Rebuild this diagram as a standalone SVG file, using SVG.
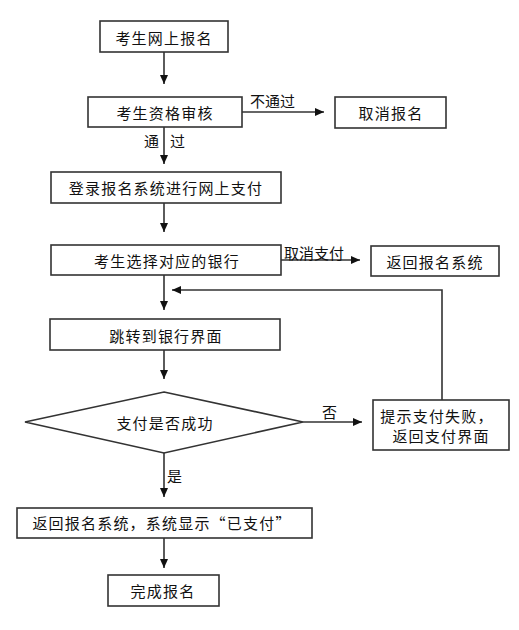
<svg xmlns="http://www.w3.org/2000/svg" width="519" height="630" viewBox="0 0 519 630">
<style>
.box{fill:#fff;stroke:#333;stroke-width:1.6}
.t{font-family:"Noto Sans CJK SC","Liberation Sans",sans-serif;font-size:15px;fill:#111;text-anchor:middle;dominant-baseline:central;letter-spacing:1.2px}
.l{font-family:"Noto Sans CJK SC","Liberation Sans",sans-serif;font-size:15px;fill:#111;dominant-baseline:central}
.c{fill:none;stroke:#333;stroke-width:1.6}
</style>
<defs>
<marker id="ah" markerWidth="10" markerHeight="10" refX="9" refY="4" orient="auto" markerUnits="userSpaceOnUse">
<path d="M0,0 L9,4 L0,8 Z" fill="#111"/>
</marker>
</defs>
<rect width="519" height="630" fill="#fff"/>
<g id="connectors">
<line class="c" x1="164" y1="52" x2="164" y2="84" marker-end="url(#ah)"/>
<line class="c" x1="242" y1="112" x2="324" y2="112" marker-end="url(#ah)"/>
<line class="c" x1="164" y1="127" x2="164" y2="164" marker-end="url(#ah)"/>
<line class="c" x1="164" y1="203" x2="164" y2="232" marker-end="url(#ah)"/>
<line class="c" x1="281" y1="260" x2="360" y2="260" marker-end="url(#ah)"/>
<line class="c" x1="164" y1="275" x2="164" y2="310" marker-end="url(#ah)"/>
<polyline class="c" points="442,400 442,290 172,290" marker-end="url(#ah)"/>
<line class="c" x1="164" y1="350" x2="164" y2="379" marker-end="url(#ah)"/>
<line class="c" x1="303" y1="422" x2="362" y2="422" marker-end="url(#ah)"/>
<line class="c" x1="164" y1="453" x2="164" y2="497" marker-end="url(#ah)"/>
<line class="c" x1="164" y1="538" x2="164" y2="568" marker-end="url(#ah)"/>
<text class="l" x="250" y="100">不通过</text>
<text class="l" x="144" y="140">通</text>
<text class="l" x="170" y="140">过</text>
<text class="l" x="284" y="252">取消支付</text>
<text class="l" x="322" y="411">否</text>
<text class="l" x="167" y="475">是</text>
</g>
<g id="n1"><rect class="box" x="100" y="21" width="128" height="31"/><text class="t" x="164" y="37">考生网上报名</text></g>
<g id="n2"><rect class="box" x="88" y="97" width="154" height="30"/><text class="t" x="165" y="112">考生资格审核</text></g>
<g id="n3"><rect class="box" x="335" y="97" width="111" height="31"/><text class="t" x="391" y="112">取消报名</text></g>
<g id="n4"><rect class="box" x="51" y="172" width="230" height="31"/><text class="t" x="166" y="187">登录报名系统进行网上支付</text></g>
<g id="n5"><rect class="box" x="51" y="245" width="230" height="30"/><text class="t" x="167" y="260">考生选择对应的银行</text></g>
<g id="n6"><rect class="box" x="371" y="246" width="128" height="30"/><text class="t" x="435" y="261">返回报名系统</text></g>
<g id="n7"><rect class="box" x="50" y="319" width="230" height="31"/><text class="t" x="166" y="335">跳转到银行界面</text></g>
<g id="n8"><polygon class="box" points="164,392 303,422 164,453 25,422"/><text class="t" x="165" y="422">支付是否成功</text></g>
<g id="n9"><rect class="box" x="373" y="400" width="136" height="50"/><text class="t" x="437" y="415">提示支付失败，</text><text class="t" x="441" y="435">返回支付界面</text></g>
<g id="n10"><rect class="box" x="17" y="508" width="295" height="30"/><text class="t" x="162" y="522">返回报名系统，系统显示“已支付”</text></g>
<g id="n11"><rect class="box" x="108" y="575" width="111" height="31"/><text class="t" x="163" y="590">完成报名</text></g>
</svg>
